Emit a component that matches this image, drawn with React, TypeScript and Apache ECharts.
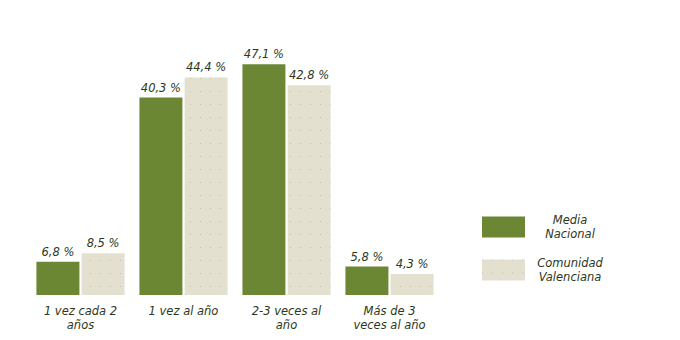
import React, { useEffect, useRef } from "react";
import * as echarts from "echarts";

const categories = ["1 vez cada 2\naños", "1 vez al año", "2-3 veces al\naño", "Más de 3\nveces al año"];
const mediaNacional = [6.8, 40.3, 47.1, 5.8];
const comunidadValenciana = [8.5, 44.4, 42.8, 4.3];
const seriesNames = ["Media Nacional", "Comunidad Valenciana"];

const GREEN = "#6b8734";
const BEIGE = "#e3e0d0";
const TEXT = "#2c3722";
const FONT = "'DejaVu Sans', Verdana, sans-serif";
const FS = 11.5;

export default function App() {
  const ref = useRef<HTMLDivElement>(null);
  useEffect(() => {
    document.body.style.margin = "0";
    if (!ref.current) return;
    const chart = echarts.init(ref.current, null, { renderer: "svg" });
    const label = {
      show: true,
      position: "top" as const,
      distance: 4,
      color: TEXT,
      fontStyle: "italic" as const,
      fontFamily: FONT,
      fontSize: FS,
      formatter: (p: any) => String(p.value).replace(".", ",") + " %",
    };
    const decal = {
      symbol: "rect",
      symbolSize: 1,
      dashArrayX: [1, 9],
      dashArrayY: [1, 12],
      color: "rgba(150,150,120,0.45)",
      rotation: 0,
    };
    chart.setOption({
      animation: false,
      grid: { left: 29, right: 239, bottom: 45, top: 50 },
      xAxis: {
        type: "category",
        data: categories,
        axisLine: { show: false },
        axisTick: { show: false },
        axisLabel: {
          color: TEXT,
          fontStyle: "italic",
          fontFamily: FONT,
          fontSize: FS,
          lineHeight: 14,
          margin: 9,
          interval: 0,
        },
      },
      yAxis: { type: "value", min: 0, max: 50, show: false, splitLine: { show: false } },
      legend: {
        orient: "vertical",
        left: 477,
        top: 209,
        itemWidth: 43,
        itemHeight: 21,
        itemGap: 17,
        icon: "rect",
        data: seriesNames,
        formatter: (name: string) => {
          const parts = name.split(" ");
          return "{a|" + parts[0] + "}\n{a|" + parts[1] + "}";
        },
        textStyle: {
          color: TEXT,
          fontStyle: "italic",
          fontFamily: FONT,
          fontSize: FS,
          rich: {
            a: { width: 80, align: "center", color: TEXT, fontStyle: "italic", fontFamily: FONT, fontSize: FS, lineHeight: 14 },
          },
        },
      },
      series: [
        {
          name: seriesNames[0],
          type: "bar",
          data: mediaNacional,
          barWidth: 43,
          barGap: "5%",
          itemStyle: { color: GREEN },
          label,
        },
        {
          name: seriesNames[1],
          type: "bar",
          data: comunidadValenciana,
          barWidth: 43,
          barGap: "5%",
          itemStyle: { color: BEIGE, decal },
          label,
        },
      ],
    });
    return () => chart.dispose();
  }, []);
  return <div ref={ref} style={{ width: 680, height: 340 }} />;
}
